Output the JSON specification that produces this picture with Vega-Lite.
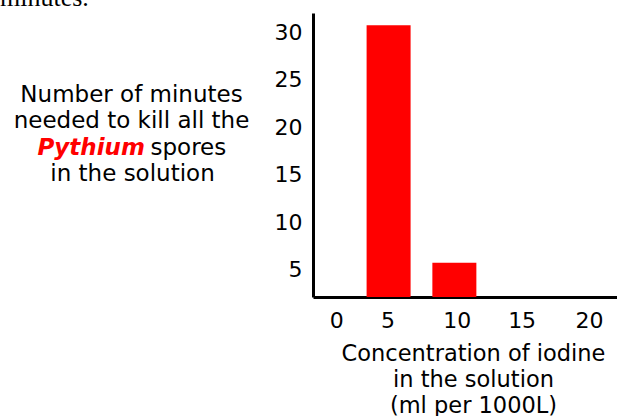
{
  "$schema": "https://vega.github.io/schema/vega-lite/v6.json",
  "width": 304,
  "height": 284,
  "autosize": {"type": "none"},
  "padding": {"left": 313, "top": 13, "right": 0, "bottom": 119},
  "background": "white",
  "title": {
    "text": "minutes.",
    "font": "Liberation Serif",
    "fontSize": 26,
    "fontWeight": "normal",
    "color": "black",
    "anchor": "start",
    "frame": "group",
    "baseline": "alphabetic",
    "offset": 5,
    "dx": -313,
    "dy": 24
  },
  "data": {
    "values": [
      {"concentration": 5, "minutes": 30},
      {"concentration": 10, "minutes": 5}
    ]
  },
  "encoding": {
    "x": {
      "field": "concentration",
      "type": "quantitative",
      "scale": {"domain": [-0.3676, 21.985], "nice": false, "zero": false},
      "axis": {
        "values": [0, 5, 10, 15, 20],
        "domainColor": "black",
        "domainWidth": 3,
        "ticks": false,
        "tickSize": 0,
        "grid": false,
        "labelFont": "DejaVu Sans",
        "labelFontSize": 22,
        "labelColor": "black",
        "labelBaseline": "top",
        "labelPadding": 13,
        "labelOffset": {
          "condition": [
            {"test": "datum.value === 0", "value": 13.5},
            {"test": "datum.value === 5", "value": -1},
            {"test": "datum.value === 10", "value": 2.5},
            {"test": "datum.value === 15", "value": 1.5}
          ],
          "value": 3
        },
        "title": ["Concentration of iodine", "in the solution", "(ml per 1000L)"],
        "titleFont": "DejaVu Sans",
        "titleFontSize": 22.5,
        "titleFontWeight": "normal",
        "titleColor": "black",
        "titleX": 160,
        "titleY": 63,
        "titleAlign": "center",
        "titleBaseline": "alphabetic",
        "titleLineHeight": 26
      }
    }
  },
  "layer": [
    {
      "mark": {"type": "bar", "color": "#ff0000", "width": 44, "clip": true},
      "encoding": {
        "y": {
          "field": "minutes",
          "type": "quantitative",
          "scale": {"domain": [1.388, 31.295], "nice": false, "zero": false},
          "axis": {
            "orient": "left",
            "values": [5, 10, 15, 20, 25, 30],
            "domainColor": "black",
            "domainWidth": 3,
            "ticks": false,
            "tickSize": 0,
            "grid": false,
            "labelFont": "DejaVu Sans",
            "labelFontSize": 22,
            "labelColor": "black",
            "labelPadding": 11,
            "labelOffset": 7,
            "title": ["Number of minutes", "needed to kill all the"],
            "titleFont": "DejaVu Sans",
            "titleFontSize": 23,
            "titleFontWeight": "normal",
            "titleColor": "black",
            "titleAngle": 0,
            "titleX": -182,
            "titleY": 88.7,
            "titleAlign": "center",
            "titleBaseline": "alphabetic",
            "titleLineHeight": 26.1
          }
        }
      }
    },
    {
      "mark": {"type": "bar", "opacity": 0, "width": 44, "clip": true},
      "encoding": {
        "y": {
          "field": "minutes",
          "type": "quantitative",
          "scale": {"domain": [1.388, 31.295], "nice": false, "zero": false},
          "axis": {
            "orient": "left",
            "domain": false,
            "ticks": false,
            "labels": false,
            "grid": false,
            "title": "Pythium",
            "titleFont": "DejaVu Sans",
            "titleFontSize": 23,
            "titleFontWeight": "bold",
            "titleFontStyle": "italic",
            "titleColor": "#ff0000",
            "titleAngle": 0,
            "titleX": -276,
            "titleY": 141,
            "titleAlign": "left",
            "titleBaseline": "alphabetic"
          }
        }
      }
    },
    {
      "mark": {"type": "bar", "opacity": 0, "width": 44, "clip": true},
      "encoding": {
        "y": {
          "field": "minutes",
          "type": "quantitative",
          "scale": {"domain": [1.388, 31.295], "nice": false, "zero": false},
          "axis": {
            "orient": "left",
            "domain": false,
            "ticks": false,
            "labels": false,
            "grid": false,
            "title": "spores",
            "titleFont": "DejaVu Sans",
            "titleFontSize": 23,
            "titleFontWeight": "normal",
            "titleColor": "black",
            "titleAngle": 0,
            "titleX": -163,
            "titleY": 141,
            "titleAlign": "left",
            "titleBaseline": "alphabetic"
          }
        }
      }
    },
    {
      "mark": {"type": "bar", "opacity": 0, "width": 44, "clip": true},
      "encoding": {
        "y": {
          "field": "minutes",
          "type": "quantitative",
          "scale": {"domain": [1.388, 31.295], "nice": false, "zero": false},
          "axis": {
            "orient": "left",
            "domain": false,
            "ticks": false,
            "labels": false,
            "grid": false,
            "title": "in the solution",
            "titleFont": "DejaVu Sans",
            "titleFontSize": 23,
            "titleFontWeight": "normal",
            "titleColor": "black",
            "titleAngle": 0,
            "titleX": -181,
            "titleY": 167,
            "titleAlign": "center",
            "titleBaseline": "alphabetic"
          }
        }
      }
    }
  ],
  "resolve": {"scale": {"y": "independent"}, "axis": {"y": "independent"}},
  "config": {"view": {"stroke": null}, "axis": {"grid": false}}
}
